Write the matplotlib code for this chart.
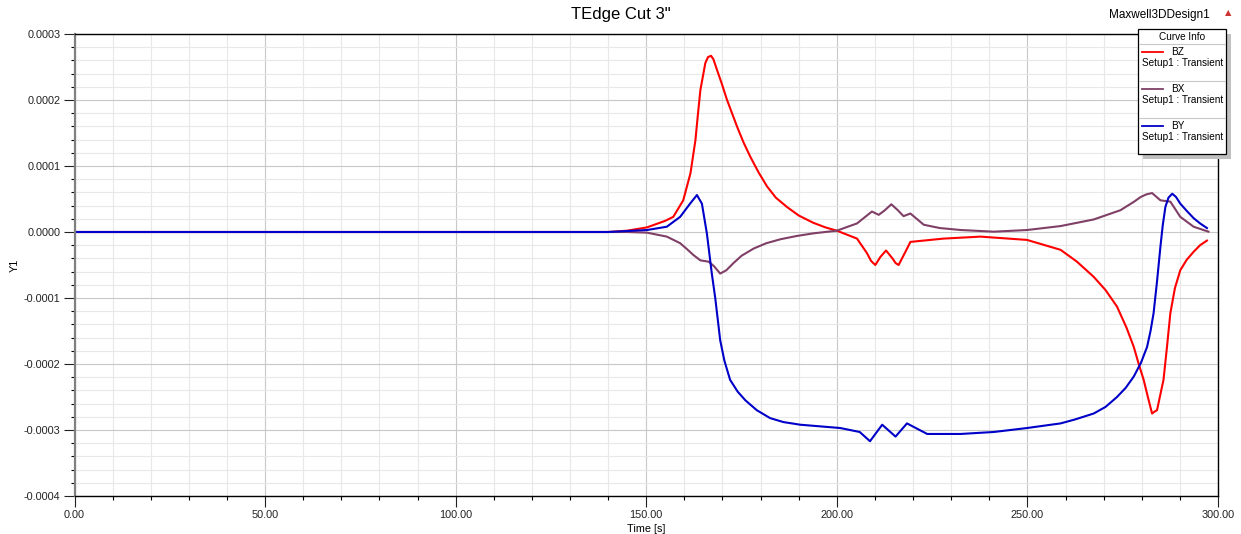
import numpy as np
import matplotlib
matplotlib.use('Agg')
from matplotlib import pyplot as plt
from matplotlib.ticker import MultipleLocator, FormatStrFormatter
from matplotlib.patches import Rectangle
from matplotlib.lines import Line2D

plt.rcParams['font.family'] = ['Liberation Sans', 'DejaVu Sans']

# curve data, y in units of 1e-4
t_bz = [0, 140, 145, 150.2, 155, 157.1, 159.7, 161.6, 162.9, 163.5, 164.2, 165.5, 166.2,
        167.0, 167.6, 168.6, 169.8, 171.2, 173.8, 175.5, 177.3, 179.5, 181.7, 184, 186.9,
        190, 193.8, 197, 200.0, 205.3, 207.9, 209, 210.1, 211.4, 212.9, 214.6, 215.4,
        216.2, 218.0, 219.3, 228, 237.7, 249.9, 258.7, 263, 267.4, 270.5, 273.5, 276,
        277.9, 279.2, 280.5, 281.6, 282.7, 283.4, 284.0, 285.7, 286.6, 287.5, 288.7,
        290.1, 291.8, 293.6, 295.3, 297.1]
y_bz = [0, 0, 0.02, 0.07, 0.17, 0.23, 0.48, 0.89, 1.39, 1.75, 2.15, 2.56, 2.65,
        2.67, 2.62, 2.45, 2.25, 2.0, 1.6, 1.36, 1.14, 0.9, 0.69, 0.52, 0.38,
        0.25, 0.14, 0.07, 0.02, -0.1, -0.32, -0.44, -0.5, -0.38, -0.28, -0.4, -0.47,
        -0.5, -0.3, -0.15, -0.1, -0.07, -0.12, -0.27, -0.45, -0.68, -0.88, -1.13, -1.45,
        -1.74, -2.0, -2.24, -2.5, -2.75, -2.72, -2.7, -2.24, -1.75, -1.23, -0.85,
        -0.58, -0.42, -0.3, -0.2, -0.13]

t_bx = [0, 145, 150.2, 155.4, 158.9, 160.5, 162.4, 164.2, 166.4, 167.8, 169.4, 171,
        172.9, 175, 178.2, 181.5, 185.2, 189.5, 193.9, 200, 205.3, 209.2, 211.0, 212.6,
        214.3, 216, 217.5, 219.3, 222.8, 227, 232.5, 241.2, 249.9, 258.7, 267.4, 274.4,
        278, 279.7, 281.2, 282.7, 284.9, 287.5, 290.1, 293.6, 297.5]
y_bx = [0, 0, -0.01, -0.07, -0.17, -0.25, -0.35, -0.43, -0.45, -0.52, -0.63, -0.58,
        -0.47, -0.36, -0.25, -0.17, -0.11, -0.06, -0.02, 0.02, 0.13, 0.31, 0.26, 0.33,
        0.42, 0.33, 0.24, 0.28, 0.11, 0.06, 0.03, 0.005, 0.03, 0.09, 0.19, 0.33,
        0.46, 0.53, 0.57, 0.59, 0.48, 0.46, 0.23, 0.08, 0.005]

t_by = [0, 140, 150.2, 155.4, 158.9, 161.5, 163.3, 164.6, 165.9, 166.5, 167.2, 168.1,
        169.4, 170.5, 172, 174, 176, 179, 182.5, 186, 190.4, 200.9, 206, 208.7, 211.9,
        215.4, 218.4, 223.7, 232.5, 241.2, 249.9, 258.7, 262.5, 267.4, 270.5, 273.5,
        275.8, 277.9, 279.8, 281.4, 282.3, 283.1, 284.0, 284.9, 285.5, 286.2, 287,
        288.0, 289, 290.1, 291.8, 293.6, 295.3, 297.1]
y_by = [0, 0, 0.03, 0.08, 0.23, 0.43, 0.56, 0.43, -0.02, -0.3, -0.63, -1.0,
        -1.64, -1.95, -2.24, -2.42, -2.55, -2.7, -2.82, -2.88, -2.92, -2.97, -3.03, -3.17,
        -2.92, -3.1, -2.9, -3.06, -3.06, -3.03, -2.97, -2.9, -2.84, -2.75, -2.65, -2.5,
        -2.36, -2.19, -1.98, -1.74, -1.5, -1.23, -0.75, -0.22, 0.1, 0.38, 0.52,
        0.58, 0.53, 0.43, 0.32, 0.21, 0.13, 0.06]

names = ['BZ', 'BX', 'BY']
colors = ['#ff0000', '#7f3f66', '#0000c8']

fig = plt.figure(figsize=(12.41, 5.34), dpi=100)
ax = fig.add_axes([74.5 / 1241, 1 - 496 / 534, (1218 - 74.5) / 1241, (496 - 34) / 534])

for tt, yy, c in zip([t_bz, t_bx, t_by], [y_bz, y_bx, y_by], colors):
    ax.plot(tt, np.array(yy) * 1e-4, color=c, lw=1.5)

ax.set_xlim(0, 300)
ax.set_ylim(-0.0004, 0.0003)
ax.xaxis.set_major_locator(MultipleLocator(50))
ax.xaxis.set_minor_locator(MultipleLocator(10))
ax.yaxis.set_major_locator(MultipleLocator(0.0001))
ax.yaxis.set_minor_locator(MultipleLocator(0.00002))
ax.xaxis.set_major_formatter(FormatStrFormatter('%.2f'))
ax.yaxis.set_major_formatter(FormatStrFormatter('%.4f'))
ax.grid(which='major', color='#c8c8c8', lw=0.8)
ax.grid(which='minor', color='#e8e8e8', lw=0.8)
ax.set_axisbelow(True)
ax.tick_params(which='major', length=8, width=0.8, labelsize=7.8, colors='#222222', pad=2)
ax.tick_params(which='minor', length=3, width=0.8)
ax.spines['left'].set_color('#808080')
ax.spines['left'].set_linewidth(1.6)
for s in ['top', 'bottom', 'right']:
    ax.spines[s].set_linewidth(1.0)
ax.set_xlabel('Time [s]', fontsize=7.8, labelpad=3)
ax.set_ylabel('Y1', fontsize=7.8)
ax.yaxis.set_label_coords(-0.048, 0.5)

fig.text(621 / 1241, 1 - 15 / 534, 'TEdge Cut 3"', ha='center', va='center', fontsize=12)
fig.text(1159 / 1241, 1 - 15 / 534, 'Maxwell3DDesign1', ha='center', va='center', fontsize=8.5)
fig.text(1228 / 1241, 1 - 13 / 534, '\u25b2', ha='center', va='center', fontsize=6,
         color='#cc3333', family='DejaVu Sans')

# legend box
W, H = 1241, 534
def fx(px):
    return px / W
def fy(py):
    return 1 - py / H

fig.add_artist(Rectangle((fx(1143), fy(159)), fx(1226) - fx(1138), fy(29) - fy(154),
                         transform=fig.transFigure, facecolor='#c0c0c0', edgecolor='none'))
fig.add_artist(Rectangle((fx(1138), fy(154)), fx(1226) - fx(1138), fy(29) - fy(154),
                         transform=fig.transFigure, facecolor='white', edgecolor='black', lw=0.9))
fig.text(fx(1182), fy(36.7), 'Curve Info', ha='center', va='center', fontsize=7.2)
for py in [44.3, 81, 117.7]:
    fig.add_artist(Line2D([fx(1139), fx(1225)], [fy(py), fy(py)], transform=fig.transFigure,
                          color='#c8c8c8', lw=0.8))
for i, (n, c) in enumerate(zip(names, colors)):
    ly = 51.7 + i * 37
    fig.add_artist(Line2D([fx(1142), fx(1163)], [fy(ly), fy(ly)], transform=fig.transFigure,
                          color=c, lw=1.3))
    fig.text(fx(1171), fy(ly), n, ha='left', va='center', fontsize=7.2)
    fig.text(fx(1142.5), fy(ly + 11), 'Setup1 : Transient', ha='left', va='center', fontsize=7.2)

fig.savefig('out.png', dpi=100)
